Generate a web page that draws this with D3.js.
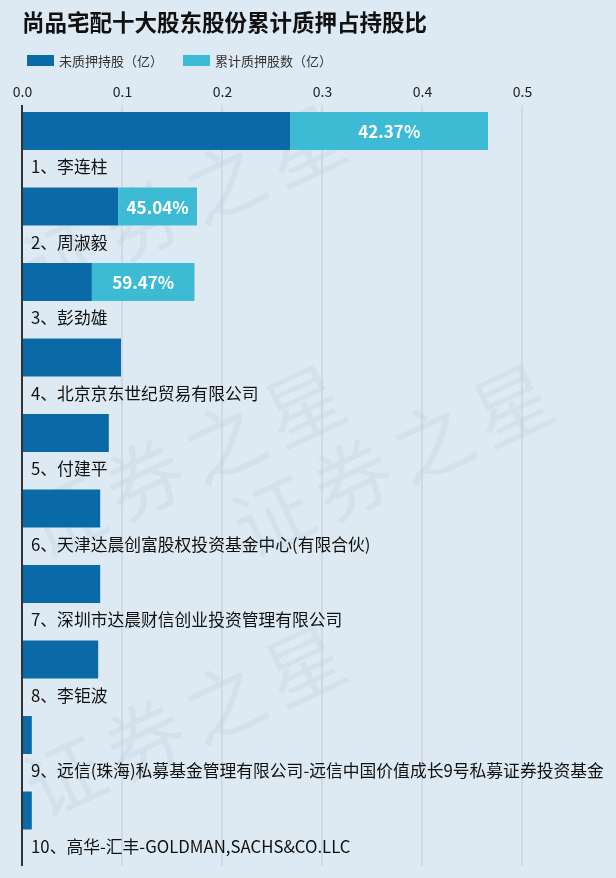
<!DOCTYPE html>
<html>
<head>
<meta charset="utf-8">
<script src="https://cdn.jsdelivr.net/npm/d3@7/dist/d3.min.js"></script>
<style>
  html, body { margin: 0; padding: 0; background: #deeaf3; }
  svg { display: block; }
  text { font-family: "Noto Sans CJK SC", "Noto Sans", sans-serif; }
</style>
</head>
<body>
<svg id="chart" width="616" height="878"></svg>
<script>
const title = "尚品宅配十大股东股份累计质押占持股比";
const seriesNames = ["未质押持股（亿）", "累计质押股数（亿）"];
const holders = [
  "1、李连柱",
  "2、周淑毅",
  "3、彭劲雄",
  "4、北京京东世纪贸易有限公司",
  "5、付建平",
  "6、天津达晨创富股权投资基金中心(有限合伙)",
  "7、深圳市达晨财信创业投资管理有限公司",
  "8、李钜波",
  "9、远信(珠海)私募基金管理有限公司-远信中国价值成长9号私募证券投资基金",
  "10、高华-汇丰-GOLDMAN,SACHS&CO.LLC"
];
const unpledged = [0.2685, 0.0962, 0.0699, 0.0990, 0.0868, 0.0782, 0.0782, 0.0762, 0.0098, 0.0098];
const pledged   = [0.1975, 0.0788, 0.1026, 0, 0, 0, 0, 0, 0, 0];
const pctLabels = ["42.37%", "45.04%", "59.47%", "", "", "", "", "", "", ""];
const tickValues = [0, 0.1, 0.2, 0.3, 0.4, 0.5];
const watermark = "证券之星";

const colors = ["#0a6aa8", "#3dbbd4"];

const svg = d3.select("#chart");

// watermark (kept inside the canvas)
const wm = svg.append("g").attr("fill", "#c9d9e4").attr("opacity", 0.5);
const wmPos = [[42, 300], [42, 560], [42, 820], [250, 560]];
wmPos.forEach(([x, y]) => {
  wm.append("text")
    .attr("transform", `translate(${x},${y}) rotate(-25)`)
    .attr("font-size", 78)
    .attr("letter-spacing", 10)
    .text(watermark);
});

const x = d3.scaleLinear().domain([0, 0.594]).range([22, 616]);
const y = d3.scaleBand().domain(holders).range([112, 829.5]).paddingInner(0.497).paddingOuter(0);

// title
svg.append("text").attr("x", 22).attr("y", 31)
  .attr("font-size", 22.5).attr("font-weight", "bold").attr("fill", "#111")
  .text(title);

// legend
const legendX = [27, 183];
seriesNames.forEach((n, i) => {
  svg.append("rect").attr("x", legendX[i]).attr("y", 55).attr("width", 27).attr("height", 11).attr("fill", colors[i]);
  svg.append("text").attr("x", legendX[i] + 32).attr("y", 60.5).attr("dominant-baseline", "central")
    .attr("font-size", 13).attr("fill", "#333").text(n);
});

// top axis
const axis = d3.axisTop(x).tickValues(tickValues).tickFormat(d3.format(".1f")).tickSize(0);
const ax = svg.append("g").attr("transform", "translate(0,105)").call(axis);
ax.select(".domain").remove();
ax.selectAll("text").attr("font-size", 14).attr("fill", "#222").attr("dy", 0).attr("y", -8)
  .style("font-family", "'Noto Sans CJK SC', sans-serif");

// gridlines
svg.append("g").selectAll("line").data(tickValues.slice(1)).join("line")
  .attr("x1", d => x(d)).attr("x2", d => x(d)).attr("y1", 105).attr("y2", 866)
  .attr("stroke", "#bfcad3").attr("stroke-width", 1);

// bars
const g = svg.append("g");
holders.forEach((h, i) => {
  g.append("rect").attr("x", x(0)).attr("y", y(h))
    .attr("width", x(unpledged[i]) - x(0)).attr("height", y.bandwidth()).attr("fill", colors[0]);
  if (pledged[i] > 0) {
    g.append("rect").attr("x", x(unpledged[i])).attr("y", y(h))
      .attr("width", x(unpledged[i] + pledged[i]) - x(unpledged[i])).attr("height", y.bandwidth()).attr("fill", colors[1]);
  }
  if (pctLabels[i]) {
    g.append("text")
      .attr("x", (x(unpledged[i]) + x(unpledged[i] + pledged[i])) / 2)
      .attr("y", y(h) + y.bandwidth() / 2)
      .attr("text-anchor", "middle").attr("dominant-baseline", "central")
      .attr("font-size", 17).attr("font-weight", "bold").attr("fill", "#fff")
      .text(pctLabels[i]);
  }
  g.append("text").attr("x", 31).attr("y", y(h) + y.bandwidth() + 16.5)
    .attr("dominant-baseline", "central").attr("font-size", 16.8).attr("fill", "#111")
    .text(h);
});

// y axis line
svg.append("line").attr("x1", 22).attr("x2", 22).attr("y1", 105).attr("y2", 866)
  .attr("stroke", "#333").attr("stroke-width", 2);
</script>
</body>
</html>
